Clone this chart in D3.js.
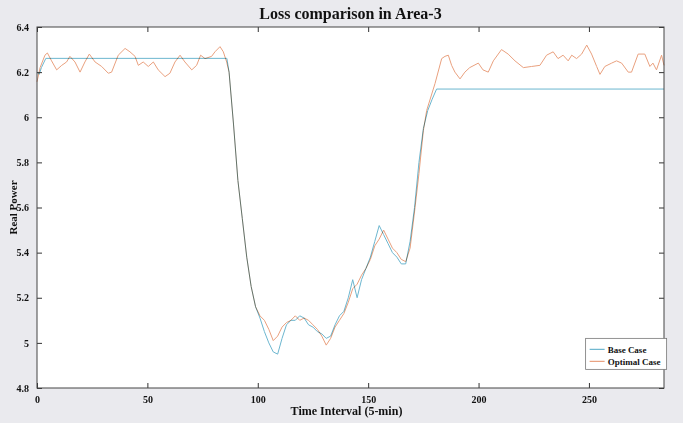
<!DOCTYPE html>
<html>
<head>
<meta charset="utf-8">
<script src="https://cdn.jsdelivr.net/npm/d3@7"></script>
<style>
  html, body { margin: 0; padding: 0; background: #fff; }
  svg { display: block; }
  text { font-family: "Liberation Serif", "Times New Roman", serif; font-weight: bold; fill: #111; }
  .line { fill: none; stroke-width: 1; mix-blend-mode: multiply; }
</style>
</head>
<body>
<svg id="chart" width="688" height="423"></svg>
<script>
"use strict";

// Base Case (time index, real power)
const baseT = [0, 1, 2, 4, 86, 87, 89, 91, 93, 95, 97, 99, 101, 103, 105, 107, 109, 111, 113, 115,
  117, 119, 121, 123, 125, 127, 129, 131, 133, 135, 137, 139, 141, 143, 145, 147, 149, 151, 153,
  155, 157, 159, 161, 163, 165, 167, 169, 171, 173, 175, 177, 179, 181, 284];
const baseV = [6.2, 6.19, 6.22, 6.261, 6.261, 6.2, 5.97, 5.72, 5.55, 5.38, 5.25, 5.16, 5.11, 5.05,
  5.0, 4.96, 4.95, 5.02, 5.08, 5.1, 5.1, 5.12, 5.11, 5.08, 5.07, 5.05, 5.04, 5.02, 5.03, 5.08,
  5.12, 5.14, 5.2, 5.28, 5.2, 5.28, 5.33, 5.38, 5.45, 5.52, 5.48, 5.44, 5.4, 5.38, 5.35, 5.35,
  5.45, 5.6, 5.8, 5.95, 6.03, 6.08, 6.125, 6.125];

// Optimal Case
const optT = [0, 1.4, 3.6, 4.7, 6.6, 8.9, 11.2, 13.4, 14.9, 17.2, 19.5, 21.7, 23.7, 26.3, 29.3,
  32.3, 33.8, 36.8, 39.9, 42.1, 44.4, 45.9, 48.1, 50.4, 52.7, 54.9, 58, 60.2, 62.5, 64.8, 67,
  70.1, 72.3, 74.1, 76.1, 79.1, 80.6, 82.9, 84.4, 85.9, 87, 89, 91, 93, 95, 97, 99, 101, 103,
  105, 107, 109, 111, 113, 115, 117, 119, 121, 123, 125, 127, 129, 131, 133, 135, 137, 139, 141,
  143, 145, 147, 149, 151, 153, 155, 157, 159, 161, 163, 165, 167, 169, 171, 173, 175, 176.5,
  180.3, 183.3, 184.8, 186.3, 187.8, 189.3, 191.6, 193.8, 196, 199.9, 202, 204.4, 206.7, 210.4,
  213.4, 216.5, 220.3, 224, 227.8, 230.8, 233.8, 236, 238.3, 240.6, 242.2, 244.4, 246.7, 249,
  251.2, 253.5, 255, 257.2, 260.3, 262.5, 264.8, 267.8, 269.3, 272.3, 275.3, 277.6, 279, 280.6,
  282.9, 284];
const optV = [6.157, 6.22, 6.275, 6.285, 6.25, 6.21, 6.23, 6.245, 6.27, 6.245, 6.2, 6.245, 6.28,
  6.245, 6.225, 6.195, 6.2, 6.275, 6.305, 6.29, 6.27, 6.23, 6.245, 6.225, 6.245, 6.21, 6.18,
  6.195, 6.245, 6.275, 6.245, 6.21, 6.23, 6.275, 6.26, 6.27, 6.29, 6.313, 6.29, 6.245, 6.2,
  5.97, 5.72, 5.55, 5.38, 5.25, 5.16, 5.12, 5.1, 5.06, 5.01, 5.03, 5.07, 5.09, 5.1, 5.12, 5.1,
  5.11, 5.1, 5.08, 5.06, 5.03, 4.99, 5.02, 5.07, 5.1, 5.13, 5.18, 5.24, 5.26, 5.3, 5.33, 5.37,
  5.43, 5.46, 5.5, 5.46, 5.42, 5.4, 5.37, 5.36, 5.42, 5.58, 5.75, 5.94, 6.03, 6.15, 6.26, 6.27,
  6.275, 6.23, 6.2, 6.17, 6.2, 6.22, 6.24, 6.21, 6.2, 6.25, 6.3, 6.28, 6.25, 6.22, 6.225, 6.23,
  6.275, 6.29, 6.26, 6.275, 6.25, 6.275, 6.26, 6.28, 6.32, 6.28, 6.225, 6.19, 6.225, 6.24, 6.25,
  6.24, 6.2, 6.2, 6.28, 6.28, 6.225, 6.24, 6.21, 6.275, 6.23];

const xTicks = [0, 50, 100, 150, 200, 250];
const yTicks = [4.8, 5, 5.2, 5.4, 5.6, 5.8, 6, 6.2, 6.4];
const seriesNames = ["Base Case", "Optimal Case"];
const seriesColors = ["#6cb6cf", "#e9a07e"];

const W = 688, H = 423;
const margin = { top: 27, right: 24, bottom: 35, left: 37 };
const pw = W - margin.left - margin.right;
const ph = H - margin.top - margin.bottom;

const svg = d3.select("#chart");

// фон
svg.append("rect").attr("width", 683).attr("height", H).attr("fill", "#eaeaee");

const x = d3.scaleLinear().domain([0, 284]).range([0, pw]);
const y = d3.scaleLinear().domain([4.8, 6.4]).range([ph, 0]);

const g = svg.append("g").attr("transform", `translate(${margin.left},${margin.top})`);

g.append("rect").attr("width", pw).attr("height", ph).attr("fill", "#fff");

// линии
const line = d3.line().x(d => x(d[0])).y(d => y(d[1]));
const series = [
  d3.zip(baseT, baseV),
  d3.zip(optT, optV)
];
const lines = g.append("g");
series.forEach((s, i) => {
  lines.append("path")
    .attr("class", "line")
    .attr("d", line(s))
    .attr("stroke", seriesColors[i]);
});

// оси (тики внутрь, как в MATLAB)
const tickLen = 5;
const styleAxis = (sel) => {
  sel.select(".domain").remove();
  sel.selectAll(".tick line").attr("stroke", "#333");
  sel.selectAll(".tick text").attr("font-size", 10).style("font-family", "'Liberation Serif', serif");
};

g.append("g").attr("transform", `translate(0,${ph})`)
  .call(d3.axisBottom(x).tickValues(xTicks).tickSize(-tickLen).tickPadding(8).tickFormat(d3.format("d")))
  .call(styleAxis);
g.append("g")
  .call(d3.axisTop(x).tickValues(xTicks).tickSize(-tickLen).tickFormat(""))
  .call(styleAxis);
g.append("g")
  .call(d3.axisLeft(y).tickValues(yTicks).tickSize(-tickLen).tickPadding(8).tickFormat(d3.format("~g")))
  .call(styleAxis);
g.append("g").attr("transform", `translate(${pw},0)`)
  .call(d3.axisRight(y).tickValues(yTicks).tickSize(-tickLen).tickFormat(""))
  .call(styleAxis);

g.append("rect").attr("width", pw).attr("height", ph)
  .attr("fill", "none").attr("stroke", "#444").attr("stroke-width", 1);

// легенда
const lg = g.append("g").attr("transform", `translate(${x(248.5)},${y(5.02)})`);
lg.append("rect").attr("width", 81).attr("height", 31)
  .attr("fill", "#fff").attr("stroke", "#777").attr("stroke-width", 0.8);
seriesNames.forEach((name, i) => {
  const yy = 11 + i * 12;
  lg.append("line").attr("x1", 4).attr("x2", 19).attr("y1", yy).attr("y2", yy)
    .attr("stroke", seriesColors[i]).attr("stroke-width", 1.2);
  lg.append("text").attr("x", 22).attr("y", yy + 3.5).attr("font-size", 9).text(name);
});

// подписи
svg.append("text")
  .attr("x", margin.left + pw / 2).attr("y", 19)
  .attr("text-anchor", "middle").attr("font-size", 16)
  .text("Loss comparison in Area-3");

svg.append("text")
  .attr("x", margin.left + pw / 2 - 4).attr("y", 415)
  .attr("text-anchor", "middle").attr("font-size", 12)
  .text("Time Interval (5-min)");

svg.append("text")
  .attr("transform", `translate(17,${margin.top + ph / 2}) rotate(-90)`)
  .attr("text-anchor", "middle").attr("font-size", 11)
  .text("Real Power");
</script>
</body>
</html>
